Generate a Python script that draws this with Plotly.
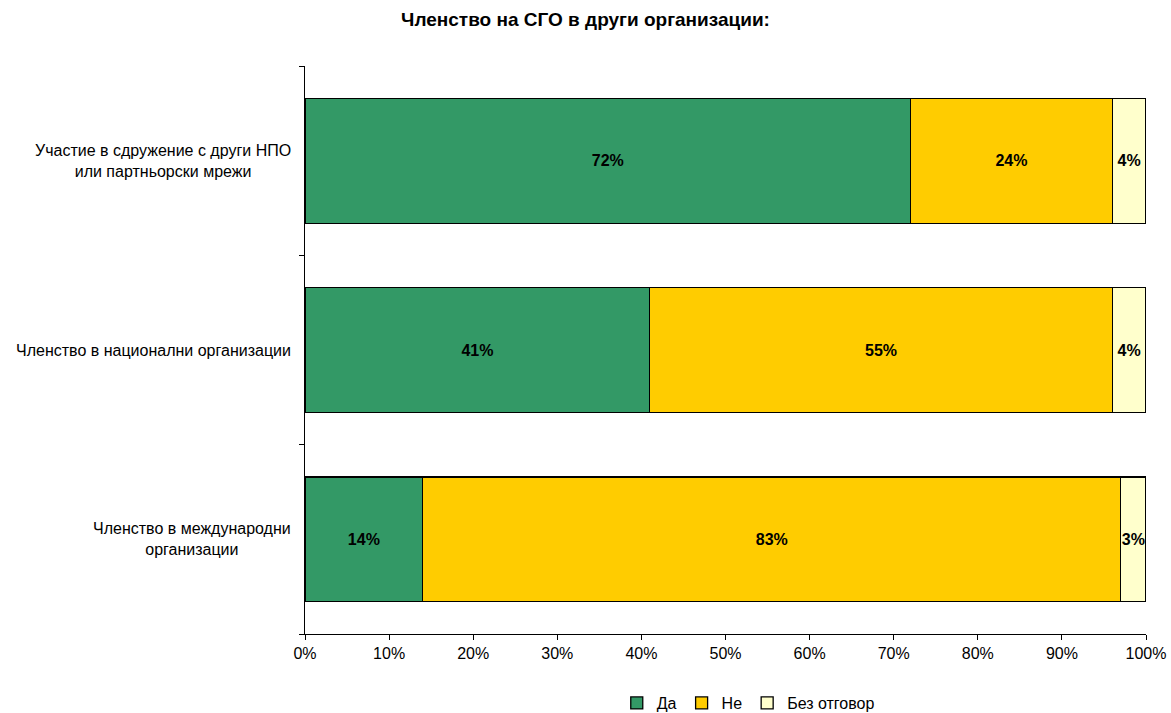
import plotly.graph_objects as go

categories = [
    "Участие в сдружение с други НПО<br>или партньорски мрежи",
    "Членство в национални организации",
    "Членство в международни<br>организации",
]
yes_vals = [72, 41, 14]
no_vals = [24, 55, 83]
na_vals = [4, 4, 3]
series_names = ["Да", "Не", "Без отговор"]
colors = ["#339966", "#FFCC00", "#FFFFCC"]
x_ticks = list(range(0, 101, 10))
x_ticklabels = [f"{v}%" for v in x_ticks]

FONT = "Liberation Sans, Arial, sans-serif"

fig = go.Figure()
for name, vals, col in zip(series_names, [yes_vals, no_vals, na_vals], colors):
    fig.add_trace(go.Bar(
        y=categories, x=vals, name=name, orientation="h",
        marker=dict(color=col, line=dict(color="black", width=1.3)),
        text=[f"{v}%" for v in vals], textposition="inside",
        insidetextanchor="middle", textangle=0, constraintext="none",
        textfont=dict(family=FONT, size=16, color="black", weight="bold"),
        hoverinfo="skip",
    ))

# category labels: right-aligned block, centered lines (as in the reference)
for cat in categories:
    fig.add_annotation(
        x=0, xref="paper", xshift=-12, xanchor="right",
        y=cat, yref="y", yanchor="middle",
        text=cat, align="center", showarrow=False,
        font=dict(family=FONT, size=16, color="black"),
    )

fig.update_layout(
    barmode="stack", bargap=0.34,
    width=1171, height=713,
    paper_bgcolor="white", plot_bgcolor="white",
    margin=dict(l=305, r=25, t=66, b=79, autoexpand=False),
    font=dict(family=FONT, size=16, color="black"),
    title=dict(text="<b>Членство на СГО в други организации:</b>", x=0.5, xanchor="center",
               yref="container", y=0.973, yanchor="middle", font=dict(size=19)),
    uniformtext=dict(minsize=15, mode="show"),
    legend=dict(orientation="h", xref="container", yref="container",
                x=0.639, xanchor="center", y=0.014, yanchor="middle",
                font=dict(size=16), traceorder="normal", itemwidth=30),
    showlegend=True,
)
fig.update_xaxes(range=[0, 100], tickvals=x_ticks, ticktext=x_ticklabels,
                 showgrid=False, showline=True, linecolor="black", linewidth=1,
                 ticks="outside", ticklen=5, tickcolor="black", zeroline=False)
fig.update_yaxes(categoryorder="array", categoryarray=categories[::-1],
                 showgrid=False, showline=True, linecolor="black", linewidth=1,
                 ticks="outside", ticklen=5, tickcolor="black", tickson="boundaries",
                 showticklabels=False, automargin=False)
fig.write_html("out.html", config={"displayModeBar": False})

with open("out.html", "r", encoding="utf-8") as f:
    html = f.read()
html = html.replace("<head>", "<head><style>html,body{margin:0;padding:0;overflow:hidden;}</style>", 1)
with open("out.html", "w", encoding="utf-8") as f:
    f.write(html)
